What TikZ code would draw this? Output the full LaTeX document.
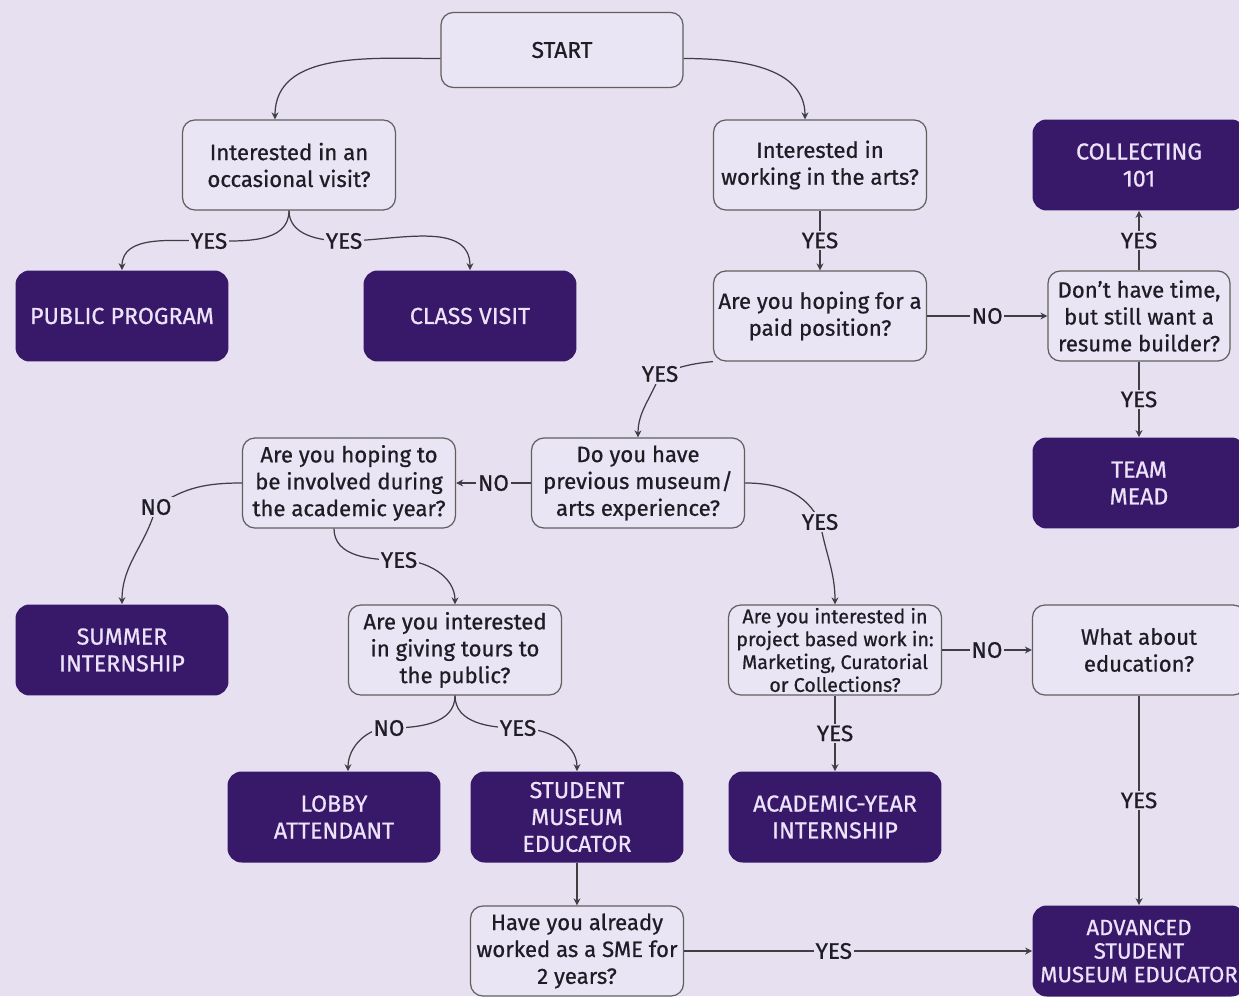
\documentclass[tikz,border=0pt]{standalone}
\usepackage{fontspec}
\setmainfont{Fira Sans}[FakeBold=0.7]
\usetikzlibrary{arrows.meta}
\definecolor{bg}{RGB}{230,224,240}
\definecolor{qfill}{RGB}{234,229,244}
\definecolor{deep}{RGB}{56,24,104}
\definecolor{pale}{RGB}{236,226,250}
\definecolor{ink}{RGB}{30,28,36}

\begin{document}
\begin{tikzpicture}[x=0.02cm,y=0.02cm,
    ask/.style={draw=gray!75!black,line width=0.7pt,fill=qfill,rounded corners=7pt,minimum width=4.26cm,minimum height=1.8cm,align=center,inner sep=1pt,text=ink,font=\fontsize{12.6}{15.3}\selectfont},
    goal/.style={fill=deep,rounded corners=8pt,minimum width=4.26cm,minimum height=1.82cm,align=center,inner sep=1pt,text=pale,font=\fontsize{13.2}{15.3}\selectfont},
    ans/.style={fill=bg,inner sep=1pt,text=ink,font=\fontsize{12.8}{14}\selectfont},
    link/.style={draw=ink!85,line width=0.7pt,-{Stealth[length=4pt,width=4pt]}}]
            \fill[bg] (0,0) rectangle (1239,-996);
            \useasboundingbox (0,0) rectangle (1239,-996);
            \node[ask,minimum width=4.84cm,minimum height=1.5cm,font=\fontsize{13}{15.3}\selectfont] (start) at (562,-50) {START};
            \node[ask] (q1) at (289,-165) {Interested in an\\occasional visit?};
            \node[ask] (q2) at (820,-165) {Interested in\\working in the arts?};
            \node[goal] (coll) at (1139,-165) {COLLECTING\\101};
            \node[goal] (pp) at (122,-316) {PUBLIC PROGRAM};
            \node[goal] (cv) at (470,-316) {CLASS VISIT};
            \node[ask] (q3) at (820,-316) {Are you hoping for a\\paid position?};
            \node[ask,minimum width=3.64cm] (q4) at (1139,-316) {Don't have time,\\but still want a\\resume builder?};
            \node[goal] (team) at (1139,-483) {TEAM\\MEAD};
            \node[ask] (q5) at (638,-483) {Do you have\\previous museum/\\arts experience?};
            \node[ask] (q6) at (349,-483) {Are you hoping to\\be involved during\\the academic year?};
            \node[goal] (summer) at (122,-650) {SUMMER\\INTERNSHIP};
            \node[ask] (q7) at (455,-650) {Are you interested\\in giving tours to\\the public?};
            \node[ask,font=\fontsize{11.2}{13}\selectfont] (q8) at (835,-650) {Are you interested in\\project based work in:\\Marketing, Curatorial\\or Collections?};
            \node[ask] (q9) at (1139,-650) {What about\\education?};
            \node[goal] (lobby) at (334,-817) {LOBBY\\ATTENDANT};
            \node[goal] (sme) at (577,-817) {STUDENT\\MUSEUM\\EDUCATOR};
            \node[goal] (acad) at (835,-817) {ACADEMIC-YEAR\\INTERNSHIP};
            \node[ask] (q10) at (577,-951) {Have you already\\worked as a SME for\\2 years?};
            \node[goal,font=\fontsize{12.6}{13.4}\selectfont] (adv) at (1139,-951) {ADVANCED\\STUDENT\\MUSEUM EDUCATOR};
            % top
            \draw[link] (start.184) to[out=180,in=90] ([xshift=-0.28cm]q1.north);
            \draw[link] (start.-4) to[out=0,in=90] ([xshift=-0.3cm]q2.north);
            \draw[link] (q1.south) to[out=-90,in=0] (209,-241) node[ans] {YES} to[out=180,in=90] (pp.north);
            \draw[link] (q1.south) to[out=-90,in=180] (344,-241) node[ans] {YES} to[out=0,in=90] (cv.north);
            \draw[link] (q2) -- node[ans] {YES} (q3);
            \draw[link] (q3) -- node[ans] {NO} (q4);
            \draw[link] (q4) -- node[ans] {YES} (coll);
            \draw[link] (q4) -- node[ans] {YES} (team);
            % middle
            \draw[link] (q3.south west) to[out=185,in=20] (660,-374) node[ans] {YES} to[out=-110,in=90] (q5.north);
            \draw[link] (q5) -- node[ans] {NO} (q6);
            \draw[link] (q5.east) to[out=0,in=115] (820,-522) node[ans] {YES} to[out=-80,in=90] (q8.north);
            \draw[link] (q6.west) to[out=180,in=35] (156,-507) node[ans] {NO} to[out=-105,in=90] (summer.north);
            \draw[link] ([xshift=-0.3cm]q6.south) to[out=-90,in=180] (399,-560) node[ans] {YES} to[out=0,in=90] (q7.north);
            % bottom
            \draw[link] (q7.south) to[out=-90,in=0] (389,-728) node[ans] {NO} to[out=180,in=90] ([xshift=0.28cm]lobby.north);
            \draw[link] (q7.south) to[out=-90,in=180] (518,-728) node[ans] {YES} to[out=0,in=90] (sme.north);
            \draw[link] (q8) -- node[ans] {YES} (acad);
            \draw[link] (q8) -- node[ans] {NO} (q9);
            \draw[link] (q9) -- node[ans] {YES} (adv);
            \draw[link] (sme) -- (q10);
            \draw[link] (q10) -- node[ans,pos=0.43] {YES} (adv);
        \end{tikzpicture}
\end{document}
